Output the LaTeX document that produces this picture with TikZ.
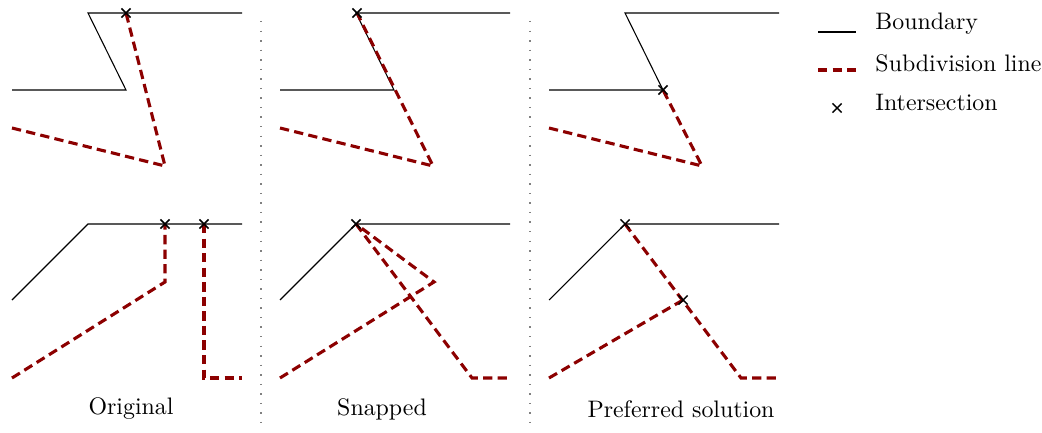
\documentclass[tikz,border=0pt]{standalone}
\usepackage{tikz}
\usetikzlibrary{shapes.misc,positioning}
\definecolor{subRed}{RGB}{140,0,0}

\begin{document}
\begin{tikzpicture}[
    x=0.419pt,y=-0.419pt,
    bnd/.style={draw,line width=0.45pt},
    sub/.style={draw=subRed,line width=1.3pt,dash pattern=on 3.9pt off 2.2pt},
    sep/.style={draw=gray,line width=0.6pt,dash pattern=on 0.6pt off 3.4pt},
    isect/.style={draw,cross out,line width=0.6pt,minimum size=3.2pt,inner sep=0pt},
    lbl/.style={font=\normalsize,anchor=west,inner sep=0pt}
  ]
    \useasboundingbox (0,0) rectangle (1042,433);
    % top row: boundary
    \foreach \dx/\n in {0/a,268/b,537/c}{
      \coordinate (\n1) at (12+\dx,90);
      \coordinate (\n2) at (126+\dx,90);
      \coordinate (\n3) at (88+\dx,13);
      \coordinate (\n4) at (242+\dx,13);
      \coordinate (\n5) at (12+\dx,128);
      \coordinate (\n6) at (165+\dx,166);
      \draw[bnd] (\n1) -- (\n2) -- (\n3) -- (\n4);
    }
    \coordinate (aT) at (126,13);
    \coordinate (bT) at (357,13);
    \draw[sub] (a5) -- (a6) -- (aT);
    \draw[sub] (b5) -- (b6) -- (bT);
    \draw[sub] (c5) -- (c6) -- (c2);
    \node[isect] at (aT) {};
    \node[isect] at (bT) {};
    \node[isect] at (c2) {};
    % bottom row: boundary
    \foreach \dx/\n in {0/d,268/e,537/f}{
      \coordinate (\n1) at (12+\dx,300);
      \coordinate (\n2) at (88+\dx,224);
      \coordinate (\n3) at (242+\dx,224);
      \coordinate (\n4) at (12+\dx,378);
      \coordinate (\n5) at (242+\dx,378);
      \draw[bnd] (\n1) -- (\n2) -- (\n3);
    }
    % original
    \coordinate (dK) at (165,282);
    \coordinate (dT) at (165,224);
    \coordinate (dU) at (204,224);
    \coordinate (dB) at (204,378);
    \draw[sub] (d4) -- (dK) -- (dT);
    \draw[sub] (dU) -- (dB) -- (d5);
    \node[isect] at (dT) {};
    \node[isect] at (dU) {};
    % snapped
    \coordinate (eK) at (434,282);
    \coordinate (eB) at (472,378);
    \draw[sub] (e4) -- (eK) -- (e2);
    \draw[sub] (e2) -- (eB) -- (e5);
    \node[isect] at (e2) {};
    % preferred
    \coordinate (fX) at (683,300);
    \coordinate (fB) at (741,378);
    \draw[sub] (f4) -- (fX);
    \draw[sub] (f2) -- (fB) -- (f5);
    \node[isect] at (f2) {};
    \node[isect] at (fX) {};
    % separators
    \draw[sep] (261,21) -- (261,426);
    \draw[sep] (530,21) -- (530,426);
    % captions
    \node (capA) at (131,409) {Original};
    \node (capB) at (382,409) {Snapped};
    \node (capC) at (681,409) {Preferred solution};
    % legend
    \coordinate (l1) at (818,32);
    \coordinate (l2) at (856,32);
    \coordinate (l3) at (818,70);
    \coordinate (l4) at (856,70);
    \draw[bnd] (l1) -- (l2);
    \draw[sub] (l3) -- (l4);
    \node[isect] (lx) at (837,108) {};
    \node[lbl] (tb) at (875,24) {Boundary};
    \node[lbl] (ts) at (875,63) {Subdivision line};
    \node[lbl] (ti) at (875,102) {Intersection};
\end{tikzpicture}
\end{document}
